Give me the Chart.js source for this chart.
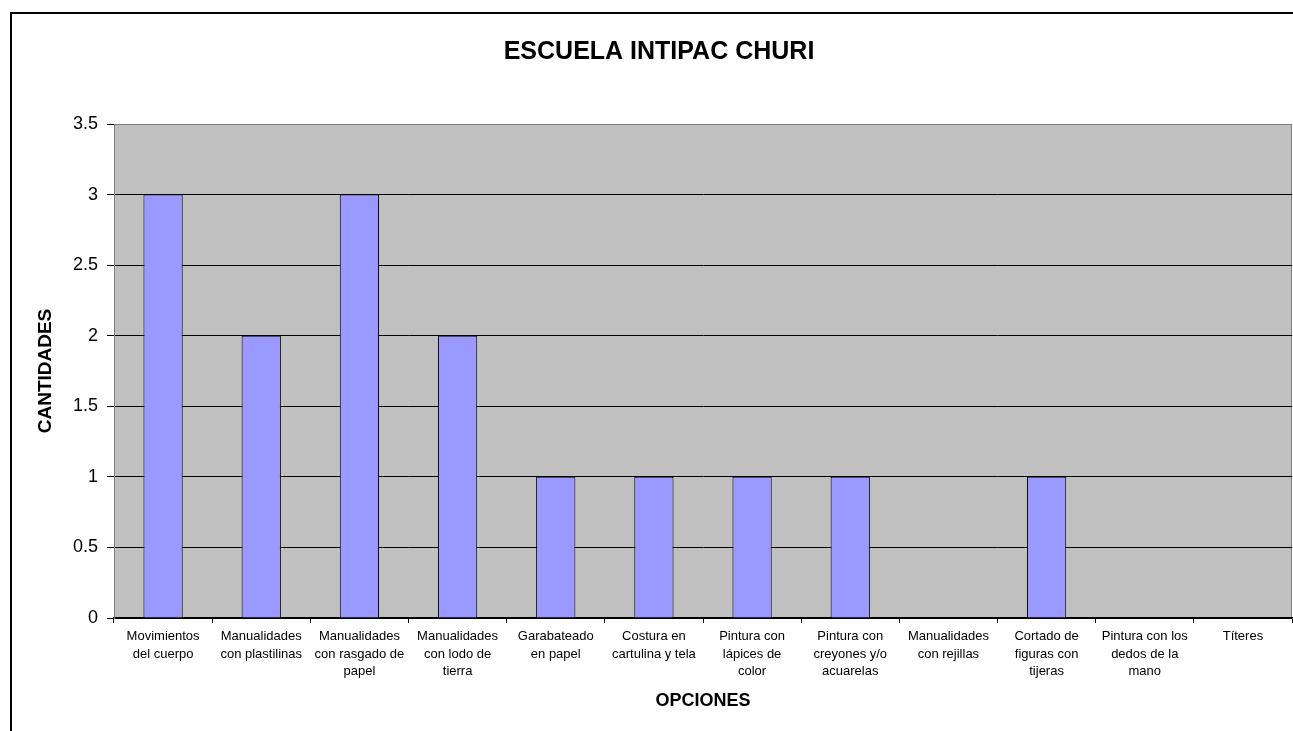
<!DOCTYPE html>
<html>
<head>
<meta charset="utf-8">
<script src="https://cdn.jsdelivr.net/npm/chart.js@4"></script>
<style>
  html, body { margin: 0; padding: 0; background: #fff; }
  #wrap { width: 1293px; height: 731px; }
</style>
</head>
<body>
<div id="wrap"><canvas id="chart" width="1293" height="731"></canvas></div>
<script>
const categories = [
  ["Movimientos", "del cuerpo"],
  ["Manualidades", "con plastilinas"],
  ["Manualidades", "con rasgado de", "papel"],
  ["Manualidades", "con lodo de", "tierra"],
  ["Garabateado", "en papel"],
  ["Costura en", "cartulina y tela"],
  ["Pintura con", "lápices de", "color"],
  ["Pintura con", "creyones y/o", "acuarelas"],
  ["Manualidades", "con rejillas"],
  ["Cortado de", "figuras con", "tijeras"],
  ["Pintura con los", "dedos de la", "mano"],
  ["Títeres"]
];
const cantidades = [3, 2, 3, 2, 1, 1, 1, 1, 0, 1, 0, 0];
const yTickValues = [0, 0.5, 1, 1.5, 2, 2.5, 3, 3.5];

const FONT = "'Liberation Sans', Arial, sans-serif";

// white page, outer frame and grey plot area
const backdrop = {
  id: "backdrop",
  beforeDraw(chart) {
    const { ctx, chartArea } = chart;
    ctx.save();
    ctx.fillStyle = "#fff";
    ctx.fillRect(0, 0, chart.width, chart.height);
    ctx.strokeStyle = "#000";
    ctx.lineWidth = 2;
    ctx.strokeRect(11, 13, 1400, 900);
    ctx.fillStyle = "#C0C0C0";
    ctx.fillRect(chartArea.left, chartArea.top, chartArea.width, chartArea.height);
    ctx.strokeStyle = "#808080";
    ctx.lineWidth = 1;
    ctx.strokeRect(chartArea.left + 0.5, chartArea.top + 0.5, chartArea.width - 1, chartArea.height - 1);
    ctx.restore();
  }
};

new Chart(document.getElementById("chart").getContext("2d"), {
  type: "bar",
  data: {
    labels: categories,
    datasets: [
      {
        label: "Cantidades",
        data: cantidades,
        backgroundColor: "#9999FF",
        borderColor: "#000",
        borderWidth: 1,
        barPercentage: 0.4,
        categoryPercentage: 1
      }
    ]
  },
  options: {
    responsive: false,
    animation: false,
    layout: { padding: { left: 26, right: 1, top: 0, bottom: 10 } },
    plugins: {
      legend: { display: false },
      tooltip: { enabled: false },
      title: {
        display: true,
        text: "ESCUELA INTIPAC CHURI",
        color: "#000",
        font: { family: FONT, size: 25, weight: "bold", lineHeight: 1.2 },
        padding: { top: 37, bottom: 57 }
      }
    },
    scales: {
      x: {
        afterFit: (scale) => { scale.height = 103; },
        grid: {
          offset: true,
          drawOnChartArea: false,
          drawTicks: true,
          tickLength: 5,
          tickColor: "#000"
        },
        border: { color: "#000", width: 1.5 },
        ticks: {
          autoSkip: false,
          maxRotation: 0,
          minRotation: 0,
          padding: 5,
          color: "#000",
          font: { family: FONT, size: 13, lineHeight: 1.35 }
        },
        title: {
          display: true,
          text: "OPCIONES",
          color: "#000",
          font: { family: FONT, size: 18, weight: "bold", lineHeight: 1.2 },
          padding: { top: 0, bottom: 9 }
        }
      },
      y: {
        min: 0,
        max: 3.5,
        afterFit: (scale) => { scale.width = 88; },
        afterBuildTicks: (scale) => { scale.ticks = yTickValues.map((v) => ({ value: v })); },
        grid: {
          color: (c) => (c.tick && c.tick.value === 3.5 ? "#808080" : "#000"),
          lineWidth: 1,
          tickLength: 7,
          tickColor: "#000"
        },
        border: { color: "#808080", width: 1 },
        ticks: {
          padding: 9,
          color: "#000",
          font: { family: FONT, size: 18 },
          callback: (v) => String(v)
        },
        title: {
          display: true,
          text: "CANTIDADES",
          color: "#000",
          font: { family: FONT, size: 19, weight: "bold", lineHeight: 1.2 },
          padding: { top: 8, bottom: 0 }
        }
      }
    }
  },
  plugins: [backdrop]
});
</script>
</body>
</html>
